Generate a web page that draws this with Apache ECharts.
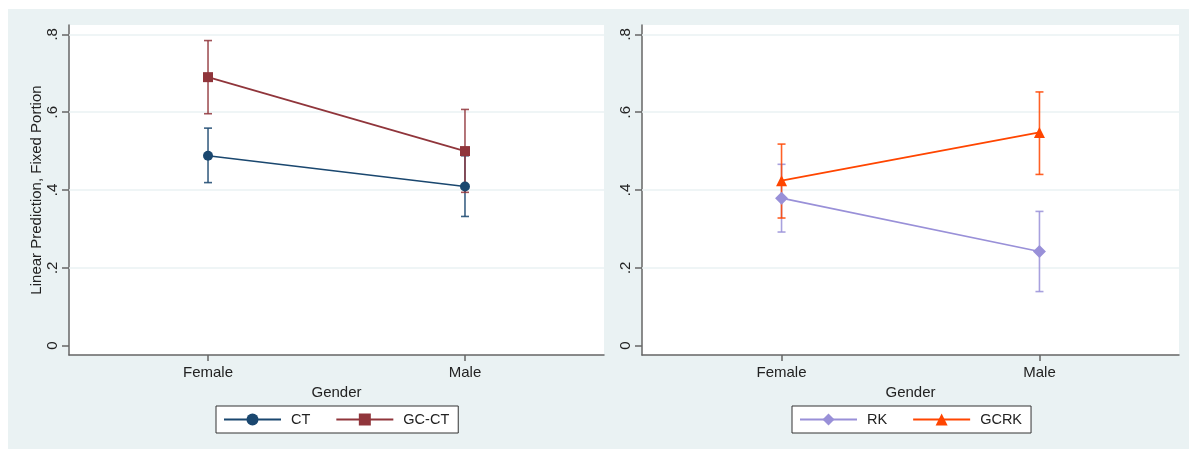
<!DOCTYPE html>
<html>
<head>
<meta charset="utf-8">
<script src="https://cdn.jsdelivr.net/npm/echarts@6/dist/echarts.min.js"></script>
<style>
html,body{margin:0;padding:0;background:#fff;}
#bg{position:absolute;left:8px;top:9px;width:1181px;height:440px;background:#eaf2f3;}
#chart{position:absolute;left:0;top:0;width:1189px;height:449px;}
</style>
</head>
<body>
<div id="bg"></div>
<div id="chart"></div>
<script>
// ---- data ----
const categories = ['Female', 'Male'];
const ctMean   = [0.488, 0.409];
const ctLow    = [0.419, 0.332];
const ctHigh   = [0.559, 0.488];
const gcctMean = [0.690, 0.500];
const gcctLow  = [0.596, 0.394];
const gcctHigh = [0.784, 0.607];
const rkMean   = [0.379, 0.242];
const rkLow    = [0.292, 0.139];
const rkHigh   = [0.466, 0.345];
const gcrkMean = [0.424, 0.548];
const gcrkLow  = [0.328, 0.440];
const gcrkHigh = [0.518, 0.652];
const yTicks = [0, 0.2, 0.4, 0.6, 0.8];
const yTickLabels = ['0', '.2', '.4', '.6', '.8'];
const gridLineValues = [0.2, 0.4, 0.6, 0.8];

const FONT = '"Liberation Sans", Arial, sans-serif';
const TXT = '#222';
const AXIS = '#666';
const BG = '#eaf2f3';

const chart = echarts.init(document.getElementById('chart'), null, {renderer: 'canvas'});

function xAxisOpt(gi) {
  return {
    type: 'value', gridIndex: gi, min: -0.541, max: 1.541,
    name: 'Gender', nameLocation: 'middle', nameGap: 27,
    nameTextStyle: {color: TXT, fontSize: 15, fontFamily: FONT},
    axisLine: {show: true, onZero: false, lineStyle: {color: AXIS, width: 1.5}},
    axisTick: {show: true, length: 6, customValues: [0, 1], lineStyle: {color: AXIS, width: 1.5}},
    axisLabel: {customValues: [0, 1], margin: 10, color: TXT, fontSize: 15, fontFamily: FONT,
      formatter: v => categories[Math.round(v)]},
    splitLine: {show: false}
  };
}
function yAxisOpt(gi, name) {
  return {
    type: 'value', gridIndex: gi, min: -0.024, max: 0.824,
    name: name, nameLocation: 'middle', nameGap: 25, nameRotate: 90,
    nameTextStyle: {color: TXT, fontSize: 15, fontFamily: FONT},
    axisLine: {show: true, onZero: false, lineStyle: {color: AXIS, width: 1.5}},
    axisTick: {show: true, length: 7, customValues: yTicks, lineStyle: {color: AXIS, width: 1.5}},
    axisLabel: {customValues: yTicks, rotate: 90, margin: 9, color: TXT, fontSize: 15, fontFamily: FONT,
      formatter: v => yTickLabels[yTicks.findIndex(t => Math.abs(t - v) < 1e-6)]},
    splitLine: {show: false}
  };
}
function lineSeries(name, means, color, symbol, size, gi) {
  return {
    type: 'line', name: name, xAxisIndex: gi, yAxisIndex: gi,
    data: means.map((v, i) => [i, v]),
    symbol: symbol, symbolSize: size, showSymbol: true,
    lineStyle: {color: color, width: 1.7},
    itemStyle: {color: color},
    z: 4, animation: false
  };
}
function errSeries(low, high, color, gi) {
  return {
    type: 'custom', xAxisIndex: gi, yAxisIndex: gi,
    data: low.map((l, i) => [i, l, high[i]]),
    encode: {x: 0, y: [1, 2]},
    z: 3, animation: false, silent: true,
    renderItem: function (params, api) {
      const x = api.value(0);
      const pLo = api.coord([x, api.value(1)]);
      const pHi = api.coord([x, api.value(2)]);
      const c = 4;
      const st = {stroke: color, lineWidth: 1.6, opacity: 0.85};
      return {type: 'group', children: [
        {type: 'line', shape: {x1: pLo[0], y1: pLo[1], x2: pHi[0], y2: pHi[1]}, style: st},
        {type: 'line', shape: {x1: pLo[0] - c, y1: pLo[1], x2: pLo[0] + c, y2: pLo[1]}, style: st},
        {type: 'line', shape: {x1: pHi[0] - c, y1: pHi[1], x2: pHi[0] + c, y2: pHi[1]}, style: st}
      ]};
    }
  };
}
function gridLines(gi) {
  return {
    type: 'line', xAxisIndex: gi, yAxisIndex: gi, data: [], silent: true,
    markLine: {
      silent: true, symbol: 'none', z: 1, animation: false,
      label: {show: false},
      lineStyle: {color: BG, width: 1.5, type: 'solid'},
      emphasis: {disabled: true},
      data: gridLineValues.map(v => ({yAxis: v}))
    }
  };
}
function legendOpt(names, left) {
  return {
    data: names, left: left, top: 406, orient: 'horizontal',
    padding: [6, 9, 6, 7], itemGap: 25, itemWidth: 57, itemHeight: 15,
    backgroundColor: '#fff', borderColor: '#333', borderWidth: 1, borderRadius: 0,
    textStyle: {color: TXT, fontSize: 14.5, fontFamily: FONT, padding: [0, 0, 0, 5]},
    selectedMode: false
  };
}

const NAVY = '#1a476f', MAROON = '#90353b', LAV = '#9990d8', ORANGE = '#ff4500';

chart.setOption({
  animation: false,
  grid: [
    {left: 69, top: 25, width: 535, height: 330, show: true, backgroundColor: '#fff', borderWidth: 0},
    {left: 642, top: 25, width: 537, height: 330, show: true, backgroundColor: '#fff', borderWidth: 0}
  ],
  xAxis: [xAxisOpt(0), xAxisOpt(1)],
  yAxis: [yAxisOpt(0, 'Linear Prediction, Fixed Portion'), yAxisOpt(1, '')],
  legend: [legendOpt(['CT', 'GC-CT'], 216), legendOpt(['RK', 'GCRK'], 792)],
  series: [
    gridLines(0), gridLines(1),
    errSeries(ctLow, ctHigh, NAVY, 0),
    errSeries(gcctLow, gcctHigh, MAROON, 0),
    lineSeries('CT', ctMean, NAVY, 'circle', 10, 0),
    lineSeries('GC-CT', gcctMean, MAROON, 'rect', 10, 0),
    errSeries(rkLow, rkHigh, LAV, 1),
    errSeries(gcrkLow, gcrkHigh, ORANGE, 1),
    lineSeries('RK', rkMean, LAV, 'diamond', 13, 1),
    lineSeries('GCRK', gcrkMean, ORANGE, 'triangle', 11, 1)
  ]
});
</script>
</body>
</html>
